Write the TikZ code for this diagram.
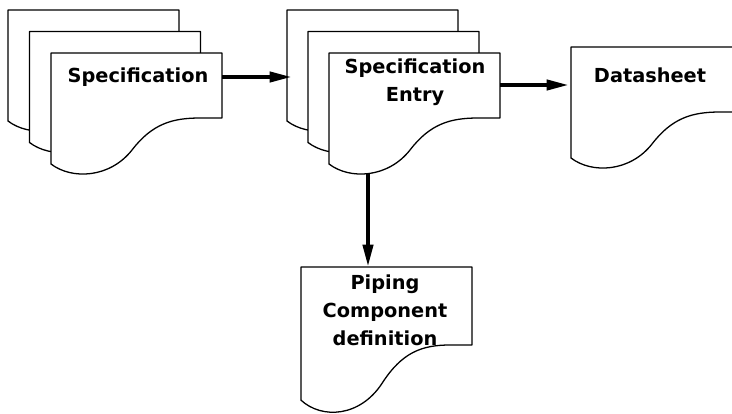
\documentclass[tikz,border=0pt]{standalone}
\usepackage{fontspec}
\setmainfont{DejaVu Sans}
\usetikzlibrary{arrows.meta}

% one wavy-bottomed document sheet; #1,#2 = top-left corner, #3 = vertical stretch
\newcommand{\docpage}[3]{%
  \begin{scope}[shift={(#1,#2)}, yscale=#3]
    \draw[page] (0,0) -- (171,0) -- (171,65) -- (149,65)
      .. controls (121,65) and (101,71) .. (81,97)
      .. controls (59,125) and (21,127) .. (0,111) -- cycle;
  \end{scope}}

\begin{document}
\begin{tikzpicture}[x=0.03cm, y=-0.03cm,
  page/.style={draw=black, fill=white, line width=1.1pt, line join=round},
  label/.style={font=\bfseries\fontsize{16.5}{24}\selectfont, align=center, inner sep=0pt},
  flow/.style={line width=3.4pt, -{Triangle[length=19pt, width=8.5pt]}}]

  \useasboundingbox[fill=white] (0,0) rectangle (732,413);

  % stack of specification sheets
  \docpage{8}{10}{1}
  \docpage{29.5}{31.5}{1}
  \docpage{51}{53}{1}
  \node[label] (spec) at (138,77) {Specification};

  % stack of specification entry sheets
  \docpage{287}{10}{1}
  \docpage{308}{31.5}{1}
  \docpage{329}{53}{1}
  \node[label] (entry) at (415,82.5) {Specification\\Entry};

  % datasheet, running off the right edge
  \begin{scope}
    \clip (0,0) rectangle (732,413);
    \docpage{571}{47}{1}
  \end{scope}
  \node[label] (sheet) at (650,75) {Datasheet};

  % piping component definition
  \docpage{301}{267}{1.2}
  \node[label] (piping) at (385,310) {Piping\\Component\\definition};

  % connection points on the sheet edges
  \coordinate (specOut)  at (222,77);
  \coordinate (entryIn)  at (292,77);
  \coordinate (entryOut) at (500,85);
  \coordinate (sheetIn)  at (569,85);
  \coordinate (entryBot) at (368,173);
  \coordinate (pipingIn) at (368,267);

  \draw[flow] (specOut) -- (entryIn);
  \draw[flow] (entryOut) -- (sheetIn);
  \draw[flow] (entryBot) -- (pipingIn);
\end{tikzpicture}
\end{document}
